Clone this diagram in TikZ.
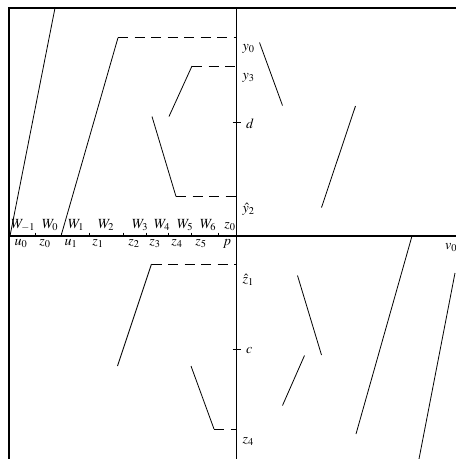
\documentclass[tikz,border=0pt]{standalone}
\usepackage{mathptmx}
\begin{document}
\begin{tikzpicture}[x=1pt,y=-1pt,
  frameline/.style={line width=1.1pt},
  seg/.style={line width=0.8pt},
  dashseg/.style={line width=0.8pt, dash pattern=on 10pt off 6.5pt},
  tickmark/.style={line width=0.8pt},
  lab/.style={inner sep=0pt, font=\fontsize{14}{16}\selectfont}]
\useasboundingbox (0,0) rectangle (456,459);
% frame and axes
\coordinate (TL) at (9,8);
\coordinate (TR) at (456,8);
\coordinate (BL) at (9,459);
\coordinate (HL) at (9,236);
\coordinate (HR) at (456,236);
\coordinate (VT) at (236.5,8);
\coordinate (VB) at (236.5,459);
\draw[frameline] (TR) -- (TL) -- (BL);
\draw[frameline] (HL) -- (HR);
\draw[frameline] (VT) -- (VB);
% ticks on the horizontal axis
\foreach \x in {35,61,89,123,146,168,191,218}
  \draw[tickmark] (\x,232.5) -- (\x,237);
% ticks on the vertical axis
\draw[tickmark] (232.5,122.7) -- (240.5,122.7);
\draw[tickmark] (232.5,349) -- (240.5,349);
% labels above the horizontal axis
\node[lab, anchor=base] (Wm1) at (23,228.5) {$W_{-1}$};
\node[lab, anchor=base] (W0) at (50,228.5) {$W_0$};
\node[lab, anchor=base] (W1) at (76,228.5) {$W_1$};
\node[lab, anchor=base] (W2) at (106,228.5) {$W_2$};
\node[lab, anchor=base] (W3) at (140,228.5) {$W_3$};
\node[lab, anchor=base] (W4) at (162,228.5) {$W_4$};
\node[lab, anchor=base] (W5) at (185,228.5) {$W_5$};
\node[lab, anchor=base] (W6) at (208,228.5) {$W_6$};
\node[lab, anchor=base] (zt0) at (230,228.5) {$z_0$};
% labels below the horizontal axis
\node[lab, anchor=base] (u0) at (21,245.5) {$u_0$};
\node[lab, anchor=base] (zb0) at (45,245.5) {$z_0$};
\node[lab, anchor=base] (u1) at (71,245.5) {$u_1$};
\node[lab, anchor=base] (z1) at (98,245.5) {$z_1$};
\node[lab, anchor=base] (z2) at (134,245.5) {$z_2$};
\node[lab, anchor=base] (z3) at (155,245.5) {$z_3$};
\node[lab, anchor=base] (z4) at (177,245.5) {$z_4$};
\node[lab, anchor=base] (z5) at (201,245.5) {$z_5$};
\node[lab, anchor=base] (p) at (227,245.5) {$p$};
% labels on the vertical axis
\node[lab, anchor=base west] (y0) at (242.5,50) {$y_0$};
\node[lab, anchor=base west] (y3) at (242.5,79) {$y_3$};
\node[lab, anchor=base west] (d) at (246,128) {$d$};
\node[lab, anchor=base west] (yh2) at (242.5,212) {$\hat y_2$};
\node[lab, anchor=base west] (zh1) at (242.5,283.5) {$\hat z_1$};
\node[lab, anchor=base west] (c) at (246,353.5) {$c$};
\node[lab, anchor=base west] (zz4) at (242.5,443.5) {$z_4$};
\node[lab, anchor=base west] (v0) at (445,249) {$v_0$};
% points of the segments
\coordinate (a1) at (10,236);   \coordinate (a2) at (55,8);
\coordinate (b1) at (61,236);   \coordinate (b2) at (118,37.7);  \coordinate (b3) at (236.5,37.7);
\coordinate (c1) at (169,116.5);\coordinate (c2) at (192,66);    \coordinate (c3) at (236.5,66);
\coordinate (d1) at (152,116.5);\coordinate (d2) at (176,196.5); \coordinate (d3) at (236.5,196.5);
\coordinate (e1) at (259.5,42.5);\coordinate (e2) at (282.5,105.5);
\coordinate (f1) at (355.5,106);\coordinate (f2) at (321.5,207.5);
\coordinate (g1) at (117.5,366);\coordinate (g2) at (151.5,264);  \coordinate (g3) at (236.5,264);
\coordinate (h1) at (191,366);  \coordinate (h2) at (214,429);    \coordinate (h3) at (236.5,429);
\coordinate (i1) at (297.5,275.5);\coordinate (i2) at (321.5,355);
\coordinate (j1) at (304.5,355.5);\coordinate (j2) at (282.5,405.5);
\coordinate (k1) at (412,236);  \coordinate (k2) at (356,434);
\coordinate (l1) at (455,273);  \coordinate (l2) at (419,459);
% segments
\draw[seg] (a1) -- (a2);
\draw[seg] (b1) -- (b2);
\draw[dashseg] (b2) -- (b3);
\draw[seg] (c1) -- (c2);
\draw[dashseg] (c2) -- (c3);
\draw[seg] (d1) -- (d2);
\draw[dashseg] (d2) -- (d3);
\draw[seg] (e1) -- (e2);
\draw[seg] (f1) -- (f2);
\draw[seg] (g1) -- (g2);
\draw[dashseg] (g2) -- (g3);
\draw[seg] (h1) -- (h2);
\draw[dashseg] (h2) -- (h3);
\draw[seg] (i1) -- (i2);
\draw[seg] (j1) -- (j2);
\draw[seg] (k1) -- (k2);
\draw[seg] (l1) -- (l2);
\end{tikzpicture}
\end{document}
